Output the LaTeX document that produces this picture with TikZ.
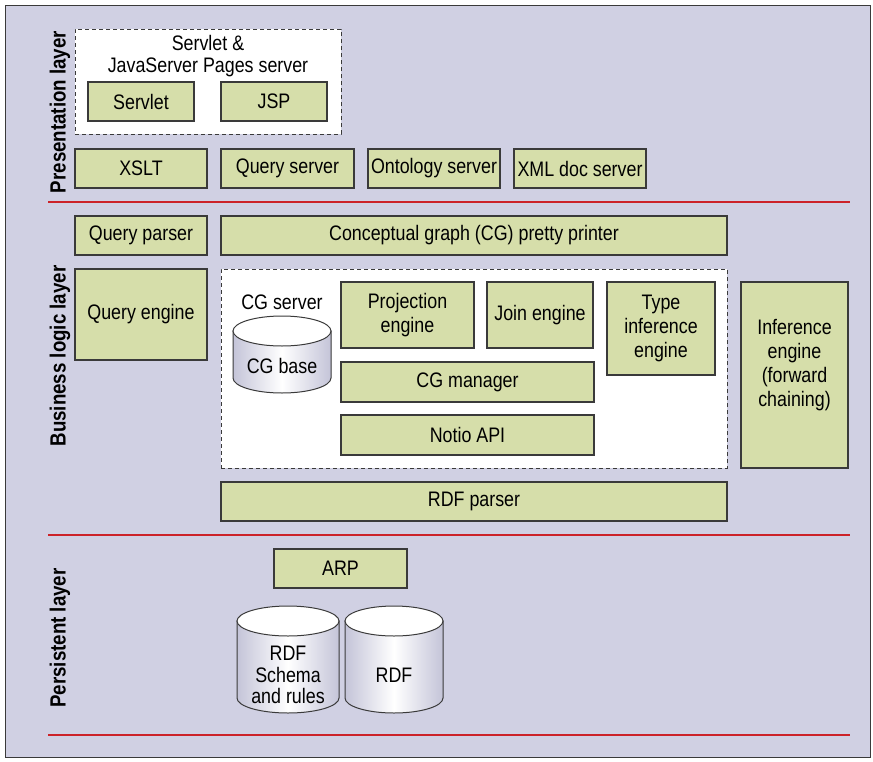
\documentclass[tikz,border=0pt]{standalone}
\usepackage{fontspec}
\setmainfont{Liberation Sans}[FakeStretch=0.85]
\definecolor{bglav}{HTML}{D0D0E3}
\definecolor{boxgreen}{HTML}{D6DEAA}
\definecolor{redline}{HTML}{CC2229}
\definecolor{boxline}{HTML}{3A3A3A}
\definecolor{cylgray}{HTML}{C4C4D8}
\tikzset{
  box/.style={draw=boxline, fill=boxgreen, line width=1.1pt, inner sep=2pt, align=center, font=\fontsize{21}{24}\selectfont},
  dashbox/.style={draw=boxline, fill=white, line width=1pt, dash pattern=on 4pt off 3pt},
  lbl/.style={align=center, font=\fontsize{21}{24}\selectfont, inner sep=0pt},
  tightlbl/.style={align=center, font=\fontsize{21}{21.5}\selectfont, inner sep=0pt},
  layerlbl/.style={rotate=90, font=\fontsize{22}{24}\selectfont\bfseries, inner sep=0pt},
  sep/.style={draw=redline, line width=1.6pt}
}
% x1, x2, top edge, bottom edge, ry
\newcommand\dbcyl[5]{%
  \pgfmathsetmacro\rxx{(#2-#1)/2}
  \pgfmathsetmacro\cxx{(#2+#1)/2}
  \pgfmathsetmacro\ytt{#3+#5}
  \pgfmathsetmacro\ybb{#4-#5}
  \shade[left color=cylgray, right color=cylgray, middle color=white, draw=boxline, line width=1pt]
    (#1,\ytt) -- (#1,\ybb) arc[start angle=180, end angle=0, x radius=\rxx, y radius=#5] -- (#2,\ytt) -- cycle;
  \filldraw[fill=white, draw=boxline, line width=1pt] (\cxx,\ytt) ellipse[x radius=\rxx, y radius=#5];
}
\begin{document}
\begin{tikzpicture}[x=1pt,y=-1pt]
\useasboundingbox (0,0) rectangle (873,761);
\fill[white] (0,0) rectangle (873,761);
\draw[fill=bglav, draw=boxline, line width=1pt] (5,5) rectangle (870,757);
% separators
\coordinate (s1a) at (48,202); \coordinate (s1b) at (850,202);
\coordinate (s2a) at (48,535); \coordinate (s2b) at (850,535);
\coordinate (s3a) at (48,735); \coordinate (s3b) at (850,735);
\draw[sep] (s1a) -- (s1b);
\draw[sep] (s2a) -- (s2b);
\draw[sep] (s3a) -- (s3b);
% layer labels
\node[layerlbl] (lpres) at (60,112) {Presentation layer};
\node[layerlbl] (lbus) at (60,356) {Business logic layer};
\node[layerlbl] (lpers) at (60,638) {Persistent layer};
% presentation layer
\node[dashbox, minimum width=266pt, minimum height=105pt] (jspsrv) at (208,81.5) {};
\node[tightlbl] (jspsrvlbl) at (208,56) {Servlet \&\\JavaServer Pages server};
\node[box, minimum width=106pt, minimum height=39pt] (servlet) at (141,101.5) {Servlet};
\node[box, minimum width=106pt, minimum height=39pt] (jsp) at (274,101.5) {JSP};
\node[box, minimum width=132pt, minimum height=39pt] (xslt) at (141,168.5) {XSLT};
\node[box, minimum width=133pt, minimum height=39pt] (qserver) at (287.5,168.5) {Query server};
\node[box, minimum width=132pt, minimum height=39pt] (onto) at (434,168.5) {Ontology server};
\node[box, minimum width=132pt, minimum height=39pt] (xmldoc) at (580,168.5) {XML doc server};
% business logic layer
\node[box, minimum width=132pt, minimum height=39pt] (qparser) at (141,235.5) {Query parser};
\node[box, minimum width=506pt, minimum height=39pt] (cgpp) at (474,235.5) {Conceptual graph (CG) pretty printer};
\node[box, minimum width=132pt, minimum height=91pt] (qengine) at (141,314.5) {Query engine};
\node[dashbox, minimum width=506pt, minimum height=199pt] (cgsrv) at (474,368.5) {};
\node[lbl] (cgsrvlbl) at (282,302) {CG server};
\dbcyl{233}{331}{316}{393}{15}
\node[lbl] (cgbase) at (282,366) {CG base};
\node[box, minimum width=133pt, minimum height=66pt] (proj) at (407.5,315) {Projection\\engine};
\node[box, minimum width=106pt, minimum height=66pt] (join) at (540,315) {Join engine};
\node[box, minimum width=108pt, minimum height=93pt] (typeinf) at (661,328.5) {Type\\inference\\engine};
\node[box, minimum width=253pt, minimum height=40pt] (cgman) at (467.5,382) {CG manager};
\node[box, minimum width=253pt, minimum height=40pt] (notio) at (467.5,435) {Notio API};
\node[box, minimum width=107pt, minimum height=186pt] (infeng) at (794.5,375) {};
\node[lbl] (infenglbl) at (794.5,365) {Inference\\engine\\(forward\\chaining)};
\node[box, minimum width=506pt, minimum height=39pt] (rdfparser) at (474,501.5) {RDF parser};
% persistent layer
\node[box, minimum width=133pt, minimum height=39pt] (arp) at (340.5,568.5) {ARP};
\dbcyl{237}{339}{606}{713}{15}
\node[tightlbl] (rdfs) at (288,675) {RDF\\Schema\\and rules};
\dbcyl{345}{443}{606}{713}{15}
\node[lbl] (rdf) at (394,675) {RDF};
\end{tikzpicture}
\end{document}
